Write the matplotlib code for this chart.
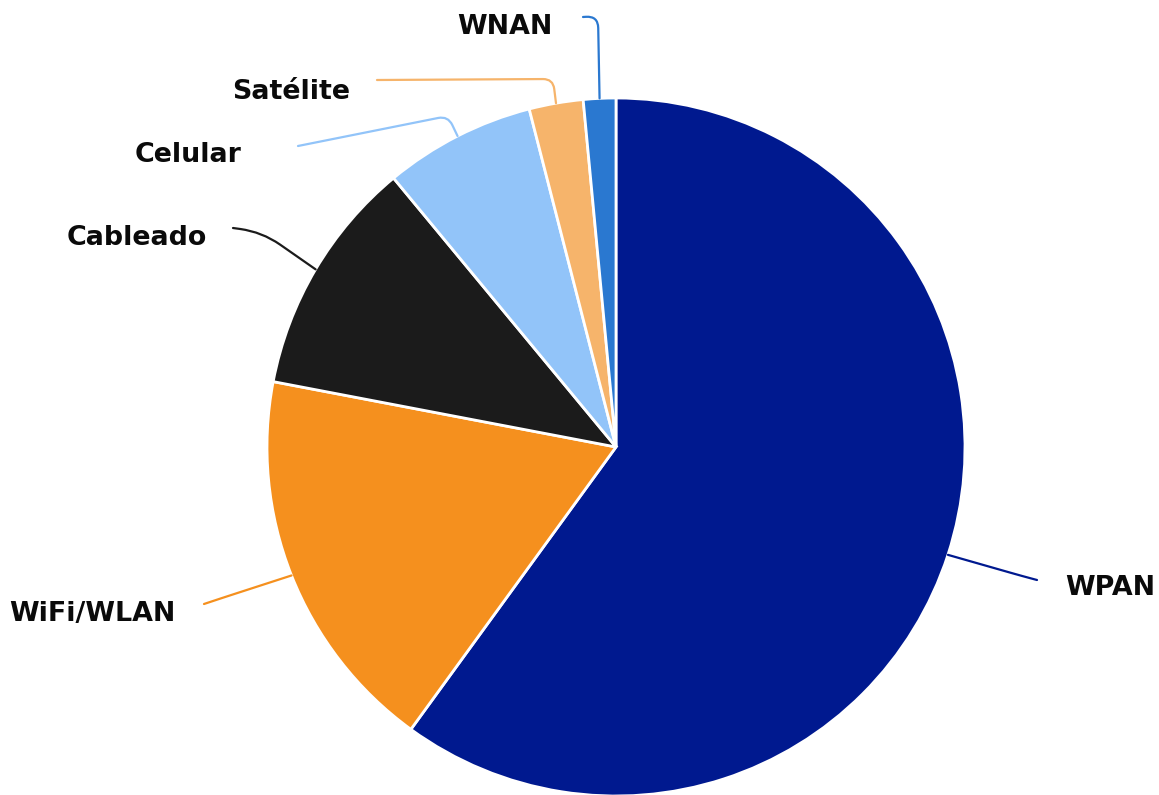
import numpy as np
import matplotlib
matplotlib.use("Agg")
import matplotlib.pyplot as plt
from matplotlib.path import Path
from matplotlib.patches import PathPatch

# Share of connected devices by connectivity type (%)
categories = ["WPAN", "WiFi/WLAN", "Cableado", "Celular", "Satélite", "WNAN"]
shares = [60.0, 18.0, 11.0, 7.0, 2.5, 1.5]
colors = ["#00198f", "#f5901e", "#1b1b1b", "#92c4f9", "#f6b46b", "#2a78d0"]

W, H = 1159, 795
CX, CY, R = 616, H - 447, 349

fig = plt.figure(figsize=(W / 100, H / 100), dpi=100)
ax = fig.add_axes([0, 0, 1, 1])
wedges, _ = ax.pie(shares, colors=colors, startangle=90, counterclock=False,
                   radius=R, center=(CX, CY),
                   wedgeprops=dict(edgecolor="white", linewidth=2))
ax.set_xlim(0, W)
ax.set_ylim(0, H)
ax.set_aspect("equal")
ax.axis("off")

# label layout (screen px, y downward): text anchor, alignment, connector corner, connector end
layout = {
    "WPAN":      dict(text=(1065, 595), ha="left",  corner=(1022, 576), end=(1037, 580), rad=12),
    "WiFi/WLAN": dict(text=(176, 621),  ha="right", corner=(222, 598),  end=(204, 604), rad=14),
    "Cableado":  dict(text=(207, 245),  ha="right", corner=(262, 232),  end=(233, 228), rad=22),
    "Celular":   dict(text=(242, 162),  ha="right", corner=(448, 116),  end=(298, 146), rad=10),
    "Satélite":  dict(text=(350, 99),   ha="right", corner=(553, 79),   end=(377, 80),  rad=10),
    "WNAN":      dict(text=(553, 34),   ha="right", corner=(598, 16),   end=(583, 17),  rad=12),
}


def rounded_connector(p0, p1, p2, rad):
    p0, p1, p2 = map(np.asarray, (p0, p1, p2))
    d01 = np.linalg.norm(p1 - p0)
    d12 = np.linalg.norm(p2 - p1)
    r = min(rad, d01 * 0.9, d12 * 0.9)
    a = p1 + (p0 - p1) / d01 * r
    b = p1 + (p2 - p1) / d12 * r
    verts = [p0, a, p1, b, p2]
    codes = [Path.MOVETO, Path.LINETO, Path.CURVE3, Path.CURVE3, Path.LINETO]
    return Path(verts, codes)


for w, name, col in zip(wedges, categories, colors):
    mid = np.deg2rad((w.theta1 + w.theta2) / 2)
    p0 = (CX + R * np.cos(mid), CY + R * np.sin(mid))
    lay = layout[name]
    p1 = (lay["corner"][0], H - lay["corner"][1])
    p2 = (lay["end"][0], H - lay["end"][1])
    ax.add_patch(PathPatch(rounded_connector(p0, p1, p2, lay["rad"]),
                           facecolor="none", edgecolor=col, lw=1.6,
                           capstyle="round", joinstyle="round"))
    tx, ty = lay["text"]
    ax.text(tx, H - ty, name, ha=lay["ha"], va="baseline",
            fontsize=19.4, fontweight="bold", family="DejaVu Sans", color="#0a0a0a")

fig.savefig("out.png", dpi=100, facecolor="white")
